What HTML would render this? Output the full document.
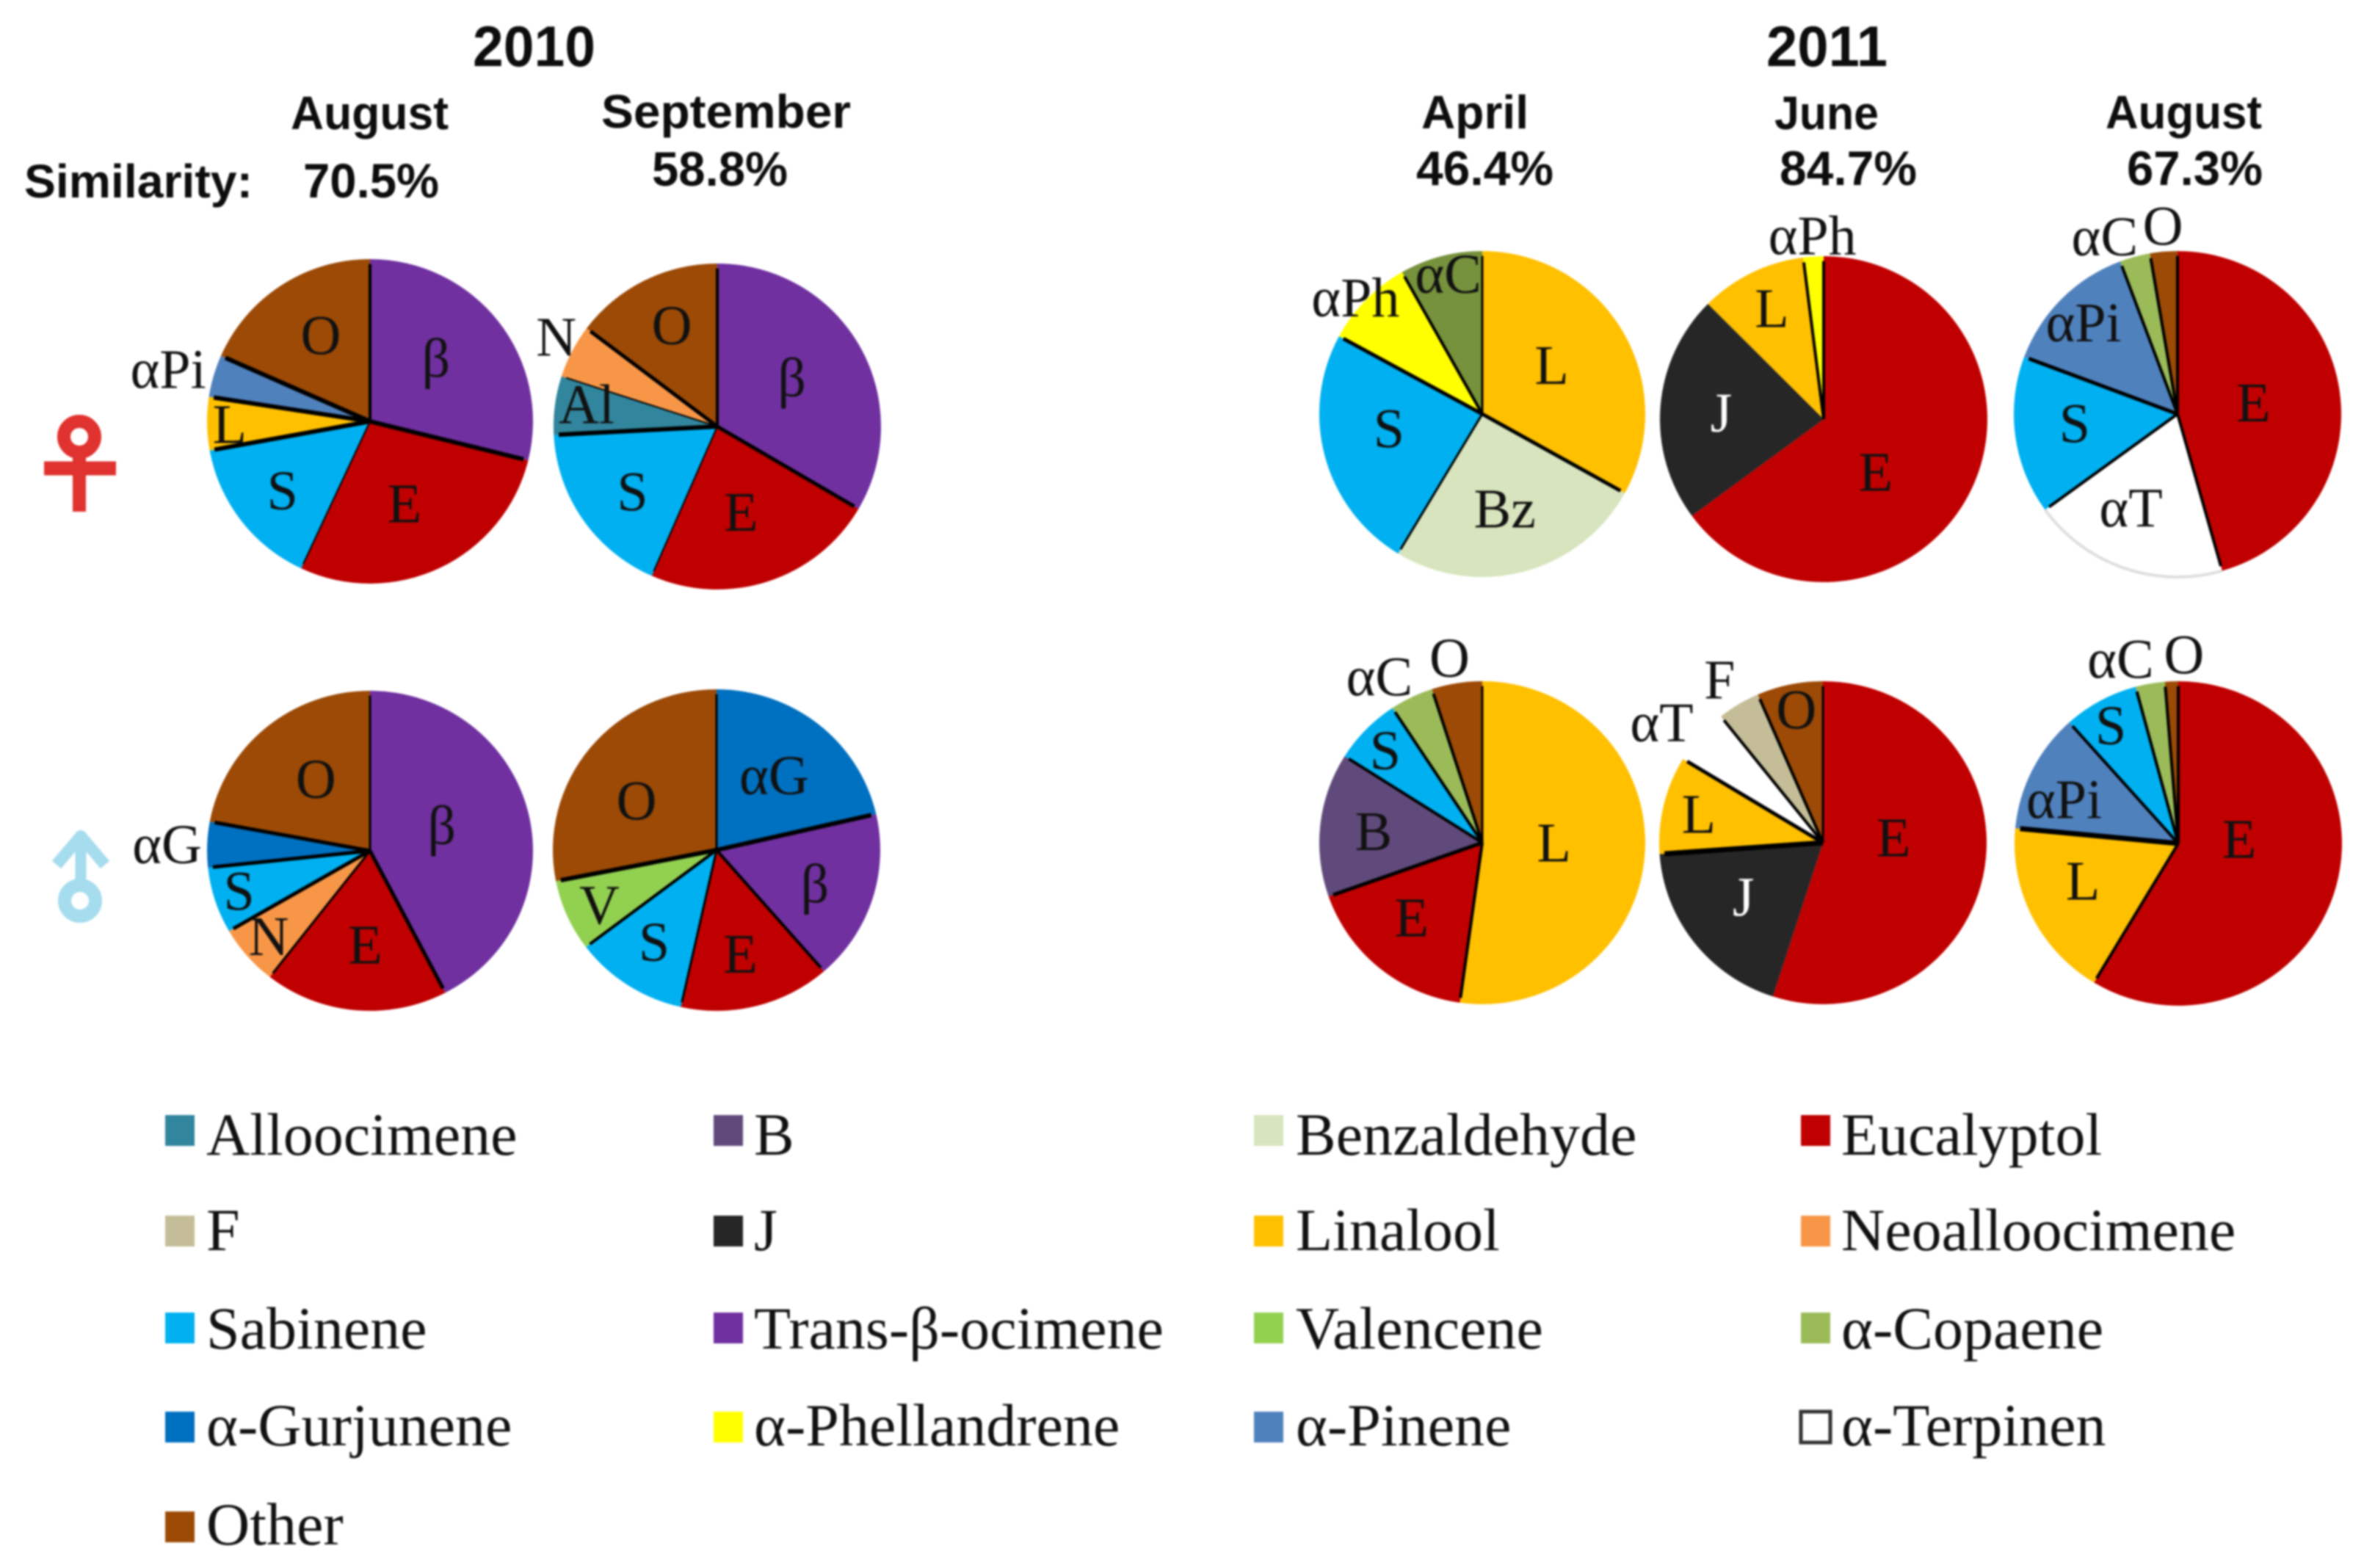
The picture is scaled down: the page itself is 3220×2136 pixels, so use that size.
<!DOCTYPE html>
<html lang="en">
<head>
<meta charset="utf-8">
<title>Volatile composition pie charts 2010–2011</title>
<style>
  html, body { margin: 0; padding: 0; background: #fff; }
  svg { display: block; filter: blur(1.2px); }
  .head { font-family: "Liberation Sans", sans-serif; font-weight: 700; fill: #0d0d0d; }
  .slice-label { font-family: "Liberation Serif", serif; font-size: 76px; text-anchor: middle; fill: #111; }
  .legend-text { font-family: "Liberation Serif", serif; font-size: 82px; fill: #111; }
</style>
</head>
<body>
<svg id="chart" xmlns="http://www.w3.org/2000/svg" width="3220" height="2136" viewBox="0 0 3220 2136">
  <rect width="3220" height="2136" fill="#ffffff"/>

  <text class="head" x="644" y="90" font-size="78" textLength="167" lengthAdjust="spacingAndGlyphs">2010</text>
  <text class="head" x="2406" y="90" font-size="78" textLength="165" lengthAdjust="spacingAndGlyphs">2011</text>

  <text class="head" x="396" y="176" font-size="64" textLength="215" lengthAdjust="spacingAndGlyphs">August</text>
  <text class="head" x="819" y="174" font-size="64" textLength="340" lengthAdjust="spacingAndGlyphs">September</text>
  <text class="head" x="1936" y="175" font-size="64" textLength="146" lengthAdjust="spacingAndGlyphs">April</text>
  <text class="head" x="2417" y="176" font-size="64" textLength="142" lengthAdjust="spacingAndGlyphs">June</text>
  <text class="head" x="2868" y="175" font-size="64" textLength="213" lengthAdjust="spacingAndGlyphs">August</text>

  <text class="head" x="33" y="269" font-size="64" textLength="311" lengthAdjust="spacingAndGlyphs">Similarity:</text>
  <text class="head" x="413" y="269" font-size="66" textLength="185" lengthAdjust="spacingAndGlyphs">70.5%</text>
  <text class="head" x="888" y="253" font-size="66" textLength="185" lengthAdjust="spacingAndGlyphs">58.8%</text>
  <text class="head" x="1929" y="252" font-size="66" textLength="187" lengthAdjust="spacingAndGlyphs">46.4%</text>
  <text class="head" x="2424" y="252" font-size="66" textLength="187" lengthAdjust="spacingAndGlyphs">84.7%</text>
  <text class="head" x="2897" y="252" font-size="66" textLength="185" lengthAdjust="spacingAndGlyphs">67.3%</text>

  <g fill="none" stroke="#E0322F">
    <circle cx="108" cy="595" r="21" stroke-width="18"/>
    <line x1="108" y1="612" x2="108" y2="697" stroke-width="18"/>
    <line x1="60" y1="638" x2="158" y2="638" stroke-width="19"/>
  </g>
  <g fill="none" stroke="#A5DCEE">
    <circle cx="109" cy="1227" r="21" stroke-width="18"/>
    <line x1="110" y1="1140" x2="110" y2="1208" stroke-width="15"/>
    <polyline points="77,1178 110,1139 143,1178" stroke-width="16" stroke-linejoin="round"/>
  </g>

  <g id="pies"></g>
  <g id="legend"></g>
</svg>

<script>
// ---------- data (percent share per slice, read clockwise from 12 o'clock) ----------
const pieNames = ['female-aug-2010','female-sep-2010','female-apr-2011','female-jun-2011','female-aug-2011',
                  'male-aug-2010','male-sep-2010','male-apr-2011','male-jun-2011','male-aug-2011'];

const sliceKeys = [
  ['beta','E','S','L','aPi','O'],
  ['beta','E','S','Al','N','O'],
  ['L','Bz','S','aPh','aCdark'],
  ['E','J','L','aPh'],
  ['E','aT','S','aPi','aC','O'],
  ['beta','E','N','S','aG','O'],
  ['aG','beta','E','S','V','O'],
  ['L','E','B','S','aC','O'],
  ['E','J','L','aT','F','O'],
  ['E','L','aPi','S','aC','O']
];

const sliceValues = [
  [28.9,28.1,15.2,5.3,4.2,18.4],
  [33.4,23.1,17.6,5.8,5.3,14.7],
  [33.1,25.6,24.3,8.9,8.2],
  [64.9,22.6,10.5,2.0],
  [45.6,19.4,15.7,13.6,3.0,2.7],
  [42.4,18.2,6.1,6.7,4.6,22.1],
  [21.4,17.2,14.9,11.2,7.2,28.1],
  [52.2,17.4,14.4,6.7,4.3,5.0],
  [54.9,18.9,9.8,5.6,4.2,6.5],
  [58.6,17.9,11.9,7.4,2.9,1.3]
];

const sliceLabels = [
  ['β','E','S','L','αPi','O'],
  ['β','E','S','Al','N','O'],
  ['L','Bz','S','αPh','αC'],
  ['E','J','L','αPh'],
  ['E','αT','S','αPi','αC','O'],
  ['β','E','N','S','αG','O'],
  ['αG','β','E','S','V','O'],
  ['L','E','B','S','αC','O'],
  ['E','J','L','αT','F','O'],
  ['E','L','aPi','S','αC','O']
];
sliceLabels[9][2] = 'αPi';

const legendNames = ['Alloocimene','B','Benzaldehyde','Eucalyptol','F','J','Linalool','Neoalloocimene',
                     'Sabinene','Trans-β-ocimene','Valencene','α-Copaene','α-Gurjunene','α-Phellandrene','α-Pinene','α-Terpinen','Other'];
const legendKeys = ['Al','B','Bz','E','F','J','L','N','S','beta','V','aC','aG','aPh','aPi','aT','O'];

// ---------- styling & layout ----------
const keyColors = {
  Al:'#31859C', B:'#604A7B', Bz:'#D7E4BD', E:'#C00000', F:'#C4BD97', J:'#262626', L:'#FFC000', N:'#F79646',
  S:'#00B0F0', beta:'#7030A0', V:'#92D050', aC:'#9BBB59', aCdark:'#76923C', aG:'#0070C0', aPh:'#FFFF00',
  aPi:'#4F81BD', aT:'#FFFFFF', O:'#9C4A06'
};
// lx/ly: small shift applied to all of a pie's labels
const pieLayout = [
  {cx:504,cy:574,rx:222,ry:221,lx:2,ly:2},{cx:977,cy:581,rx:223,ry:222,lx:4,ly:4},{cx:2019,cy:564,rx:222,ry:222,lx:0,ly:0},{cx:2484,cy:571,rx:223,ry:222,lx:5,ly:3},{cx:2966,cy:564,rx:223,ry:222,lx:2,ly:1},
  {cx:504,cy:1159,rx:222,ry:218,lx:1,ly:-2},{cx:976,cy:1158,rx:223,ry:219,lx:4,ly:0},{cx:2019,cy:1148,rx:222,ry:220,lx:0,ly:-1},{cx:2483,cy:1148,rx:223,ry:220,lx:5,ly:0},{cx:2967,cy:1149,rx:223,ry:221,lx:3,ly:0}
];
// Width of the dark seam after each slice
const seamWidths = [
  [6,2,6,6,6,4],[5,2,6,2,5,4],[5,3,5,4,3],[0,0,4,4],[4,4,5,4,4,4],
  [5,3,5,5,5,3],[6,4,3,4,6,3],[4,5,4,4,4,3],[0,7,5,4,4,3],[4,7,4,4,4,4]
];
// Label placement relative to the slice's mid-angle: [degrees turned, radius fraction]
const labelPlacement = [
  [[-7,.56],[3.5,.54],[0,.69],[0,.87],[-1.5,1.29],[3,.62]],
  [[-6,.54],[4,.525],[-1,.66],[3,.83],[2,1.15],[1.5,.70]],
  [[-4.5,.52],[1.6,.60],[6,.58],[-2,1.055],[1,.88]],
  [[19.7,.43],[0,.65],[0,.77],[-1,1.14]],
  [[-1,.46],[8,.645],[2.6,.64],[-1,.81],[-7.5,1.18],[0,1.16]],
  [[-5,.46],[-2,.60],[0,.83],[0,.85],[-1,1.25],[2,.55]],
  [[-2.7,.57],[2,.62],[3,.66],[2,.70],[-1,.81],[-8.5,.59]],
  [[-3,.44],[3.4,.64],[-1,.67],[-1,.82],[-6,1.2],[-1,1.155]],
  [[-13,.41],[4.5,.61],[-1,.80],[-5,1.25],[-2,1.2],[-1,.84]],
  [[-19.5,.36],[5.5,.64],[-6,.76],[-2,.84],[-8,1.19],[3.4,1.16]]
];
const legendColumns = [{sw:225,tx:281},{sw:972,tx:1027},{sw:1708,tx:1765},{sw:2453,tx:2508}];
const legendRows = [{sw:1519,base:1573},{sw:1656,base:1703},{sw:1788,base:1837},{sw:1923,base:1969},{sw:2059,base:2104}];

const NS = 'http://www.w3.org/2000/svg';

// ---------- axis functions ----------
function angleScale(share, total) { return share / total * 360; }
function polar(layout, deg, frac) {
  const a = deg * Math.PI / 180;
  return { x: layout.cx + Math.sin(a) * layout.rx * frac, y: layout.cy - Math.cos(a) * layout.ry * frac };
}

function drawPie(index, host) {
  const layout = pieLayout[index];
  const values = sliceValues[index];
  const keys = sliceKeys[index];
  const total = values.reduce(function (s, v) { return s + v; }, 0);

  const group = document.createElementNS(NS, 'g');
  
  
  host.appendChild(group);

  let start = 0;
  const spans = [];
  values.forEach(function (v, i) {
    const sweep = angleScale(v, total);
    const a = polar(layout, start, 1);
    const b = polar(layout, start + sweep, 1);
    const path = document.createElementNS(NS, 'path');
    path.setAttribute('d', 'M' + layout.cx + ' ' + layout.cy + ' L' + a.x + ' ' + a.y +
      ' A' + layout.rx + ' ' + layout.ry + ' 0 ' + (sweep > 180 ? 1 : 0) + ' 1 ' + b.x + ' ' + b.y + ' Z');
    path.setAttribute('fill', keyColors[keys[i]]);
    
    
    group.appendChild(path);
    if (keys[i] === 'aT' && index === 4) {
      const rim = document.createElementNS(NS, 'path');
      rim.setAttribute('d', 'M' + a.x + ' ' + a.y + ' A' + layout.rx + ' ' + layout.ry + ' 0 0 1 ' + b.x + ' ' + b.y);
      rim.setAttribute('fill', 'none');
      rim.setAttribute('stroke', '#DEDEDE');
      rim.setAttribute('stroke-width', '4');
      
      
      group.appendChild(rim);
    }
    spans.push({ start: start, end: start + sweep });
    start += sweep;
  });

  spans.forEach(function (span, i) {
    const w = seamWidths[index][i];
    if (!w) return;
    const p = polar(layout, span.end % 360, 0.97);
    const seam = document.createElementNS(NS, 'line');
    seam.setAttribute('x1', layout.cx);
    seam.setAttribute('y1', layout.cy);
    seam.setAttribute('x2', p.x);
    seam.setAttribute('y2', p.y);
    seam.setAttribute('stroke', '#000');
    seam.setAttribute('stroke-width', w);
    
    
    group.appendChild(seam);
  });

  spans.forEach(function (span, i) {
    const place = labelPlacement[index][i];
    const p = polar(layout, (span.start + span.end) / 2 + place[0], place[1]);
    const t = document.createElementNS(NS, 'text');
    t.setAttribute('class', 'slice-label');
    t.setAttribute('x', p.x + layout.lx);
    t.setAttribute('y', p.y + 25 + layout.ly);
    if (keys[i] === 'J') t.setAttribute('style', 'fill:#fff');
    t.textContent = sliceLabels[index][i];
    
    
    group.appendChild(t);
  });
}

function drawLegend(host) {
  legendNames.forEach(function (name, i) {
    const col = legendColumns[i % 4];
    const row = legendRows[Math.floor(i / 4)];
    const entry = document.createElementNS(NS, 'g');
    
    
    const sw = document.createElementNS(NS, 'rect');
    sw.setAttribute('x', col.sw);
    sw.setAttribute('y', row.sw);
    sw.setAttribute('width', 40);
    sw.setAttribute('height', 42);
    sw.setAttribute('fill', keyColors[legendKeys[i]]);
    if (legendKeys[i] === 'aT') {
      sw.setAttribute('stroke', '#333');
      sw.setAttribute('stroke-width', '5');
    }
    
    
    entry.appendChild(sw);
    const t = document.createElementNS(NS, 'text');
    t.setAttribute('class', 'legend-text');
    t.setAttribute('x', col.tx);
    t.setAttribute('y', row.base);
    t.textContent = name;
    
    
    entry.appendChild(t);
    host.appendChild(entry);
  });
}

const piesHost = document.getElementById('pies');
pieNames.forEach(function (_, i) { drawPie(i, piesHost); });
drawLegend(document.getElementById('legend'));
</script>
</body>
</html>
